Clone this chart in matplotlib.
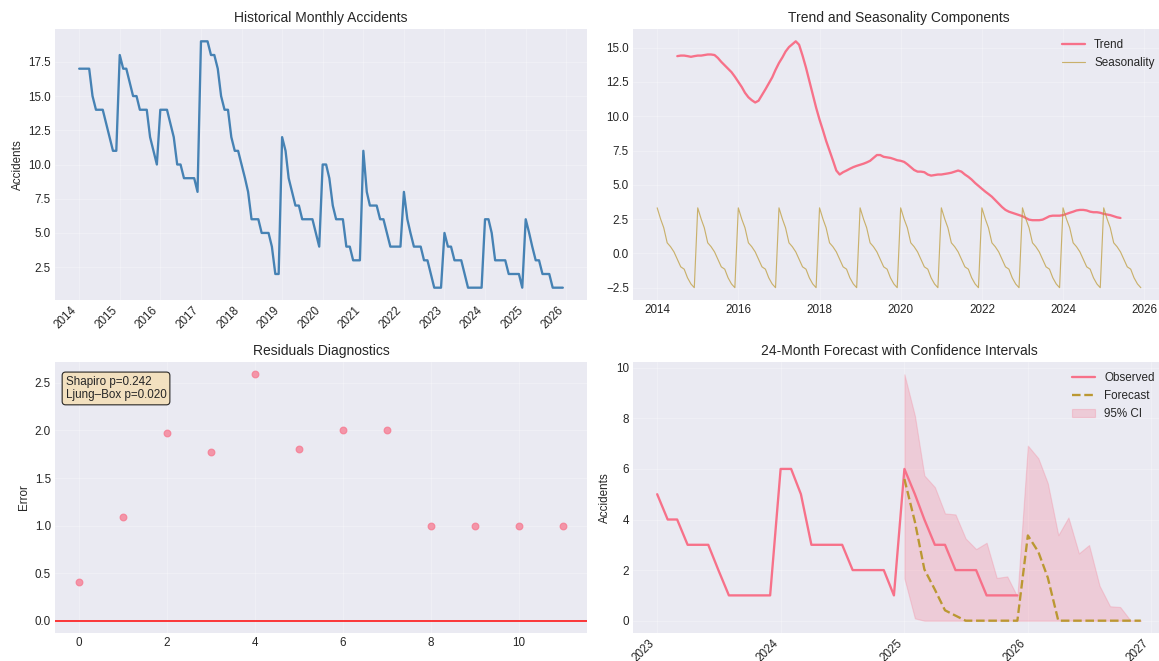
import matplotlib
matplotlib.use('Agg')
import matplotlib.pyplot as plt
import matplotlib.dates as mdates
import numpy as np
import pandas as pd

plt.style.use('seaborn-v0_8-darkgrid')
plt.rcParams['font.family'] = ['Liberation Sans', 'DejaVu Sans']

PINK = '#f77189'
GOLD = '#bb9832'

# monthly accident counts, Jan 2014 .. Dec 2025
accidents = [
    17, 17, 17, 17, 15, 14, 14, 14, 13, 12, 11, 11,   # 2014
    18, 17, 17, 16, 15, 15, 14, 14, 14, 12, 11, 10,   # 2015
    14, 14, 14, 13, 12, 10, 10, 9, 9, 9, 9, 8,        # 2016
    19, 19, 19, 18, 18, 17, 15, 14, 14, 12, 11, 11,   # 2017
    10, 9, 8, 6, 6, 6, 5, 5, 5, 4, 2, 2,              # 2018
    12, 11, 9, 8, 7, 7, 6, 6, 6, 6, 5, 4,             # 2019
    10, 10, 9, 7, 6, 6, 6, 4, 4, 3, 3, 3,             # 2020
    11, 8, 7, 7, 7, 6, 6, 5, 4, 4, 4, 4,              # 2021
    8, 6, 5, 4, 4, 4, 3, 3, 2, 1, 1, 1,               # 2022
    5, 4, 4, 3, 3, 3, 2, 1, 1, 1, 1, 1,               # 2023
    6, 6, 5, 3, 3, 3, 3, 2, 2, 2, 2, 1,               # 2024
    6, 5, 4, 3, 3, 2, 2, 2, 1, 1, 1, 1,               # 2025
]

# trend component, Jul 2014 .. Jun 2025
trend = [
    14.38, 14.42, 14.42, 14.38, 14.33, 14.38, 14.42, 14.42, 14.46, 14.50, 14.50, 14.46,
    14.25, 13.96, 13.71, 13.46, 13.21, 12.88, 12.50, 12.13, 11.71, 11.38, 11.17, 11.00,
    11.13, 11.54, 11.96, 12.38, 12.83, 13.38, 13.88, 14.29, 14.71, 15.04, 15.25, 15.46,
    15.21, 14.42, 13.54, 12.58, 11.58, 10.63, 9.75, 8.96, 8.21, 7.50, 6.79, 6.04,
    5.75, 5.92, 6.04, 6.17, 6.29, 6.38, 6.46, 6.54, 6.63, 6.75, 6.96, 7.17,
    7.17, 7.04, 7.00, 6.96, 6.88, 6.79, 6.75, 6.67, 6.50, 6.29, 6.08, 5.96,
    5.96, 5.92, 5.75, 5.67, 5.71, 5.75, 5.75, 5.79, 5.83, 5.88, 5.96, 6.04,
    5.96, 5.75, 5.58, 5.38, 5.13, 4.92, 4.71, 4.50, 4.33, 4.13, 3.88, 3.63,
    3.38, 3.17, 3.04, 2.96, 2.88, 2.79, 2.71, 2.58, 2.46, 2.42, 2.42, 2.42,
    2.46, 2.58, 2.71, 2.75, 2.75, 2.75, 2.79, 2.88, 2.96, 3.04, 3.13, 3.17,
    3.17, 3.13, 3.04, 3.00, 3.00, 2.96, 2.88, 2.83, 2.79, 2.71, 2.63, 2.58,
]

# seasonal pattern Jan..Dec (repeats every year)
seasonal_pattern = [3.32, 2.50, 1.87, 0.77, 0.49, 0.11, -0.43, -0.98, -1.15, -1.78, -2.23, -2.50]

# residual errors on the 12 test months
residual_errors = [0.41, 1.09, 1.97, 1.77, 2.59, 1.80, 2.00, 2.00, 1.00, 1.00, 1.00, 1.00]

# 24-month forecast, Jan 2025 .. Dec 2026
forecast = [5.60, 3.91, 2.03, 1.23, 0.41, 0.20, 0, 0, 0, 0, 0, 0,
            3.37, 2.72, 1.70, 0, 0, 0, 0, 0, 0, 0, 0, 0]
ci_lower = [1.67, 0.09, 0, 0, 0, 0, 0, 0, 0, 0, 0, 0,
            0, 0, 0, 0, 0, 0, 0, 0, 0, 0, 0, 0]
ci_upper = [9.74, 8.10, 5.74, 5.28, 4.24, 4.20, 3.25, 2.83, 3.08, 1.69, 1.75, 0.95,
            6.92, 6.42, 5.43, 3.38, 4.08, 2.66, 2.99, 1.38, 0.57, 0.54, 0, 0]

dates = pd.date_range('2014-01-01', periods=len(accidents), freq='MS')
trend_dates = pd.date_range('2014-07-01', periods=len(trend), freq='MS')
seasonal = np.tile(seasonal_pattern, len(accidents) // 12)
fc_dates = pd.date_range('2025-01-01', periods=len(forecast), freq='MS')
obs_dates = dates[-36:]
observed = accidents[-36:]

W, H = 1159, 661
DPI = 83.4
fig = plt.figure(figsize=(W / DPI, H / DPI), dpi=DPI)


def box(left, top, right, bottom):
    return [left / W, (H - bottom) / H, (right - left) / W, (bottom - top) / H]


ax1 = fig.add_axes(box(55, 29, 587, 300))
ax2 = fig.add_axes(box(633, 29, 1165, 300))
ax3 = fig.add_axes(box(55, 362, 587, 633))
ax4 = fig.add_axes(box(633, 362, 1165, 633))

# historical series
ax1.plot(dates, accidents, color='steelblue', lw=2)
ax1.set_title('Historical Monthly Accidents')
ax1.set_ylabel('Accidents')
ax1.xaxis.set_major_locator(mdates.YearLocator())
ax1.xaxis.set_major_formatter(mdates.DateFormatter('%Y'))
plt.setp(ax1.get_xticklabels(), rotation=45, ha='right')

# decomposition
ax2.plot(trend_dates, trend, color=PINK, lw=2, label='Trend')
ax2.plot(dates, seasonal, color=GOLD, lw=1, alpha=0.7, label='Seasonality')
ax2.set_title('Trend and Seasonality Components')
ax2.legend(loc='upper right')

# residuals
ax3.scatter(range(len(residual_errors)), residual_errors, color=PINK, alpha=0.7, s=34)
ax3.axhline(0, color='red', lw=1.3)
ax3.set_title('Residuals Diagnostics')
ax3.set_ylabel('Error')
ax3.text(0.02, 0.95, 'Shapiro p=0.242\nLjung\u2013Box p=0.020', transform=ax3.transAxes,
         va='top', fontsize=10,
         bbox=dict(boxstyle='round', facecolor='wheat', alpha=0.8))

# forecast
ax4.plot(obs_dates, observed, color=PINK, lw=2, label='Observed')
ax4.plot(fc_dates, forecast, '--', color=GOLD, lw=2, label='Forecast')
ax4.fill_between(fc_dates, ci_lower, ci_upper, color=PINK, alpha=0.25, label='95% CI')
ax4.set_title('24-Month Forecast with Confidence Intervals')
ax4.set_ylabel('Accidents')
ax4.legend(loc='upper right')
ax4.xaxis.set_major_locator(mdates.YearLocator())
ax4.xaxis.set_major_formatter(mdates.DateFormatter('%Y'))
plt.setp(ax4.get_xticklabels(), rotation=45, ha='right')

for ax in (ax1, ax2, ax3, ax4):
    ax.grid(True, alpha=0.3)

fig.savefig('out.png', dpi=DPI)
